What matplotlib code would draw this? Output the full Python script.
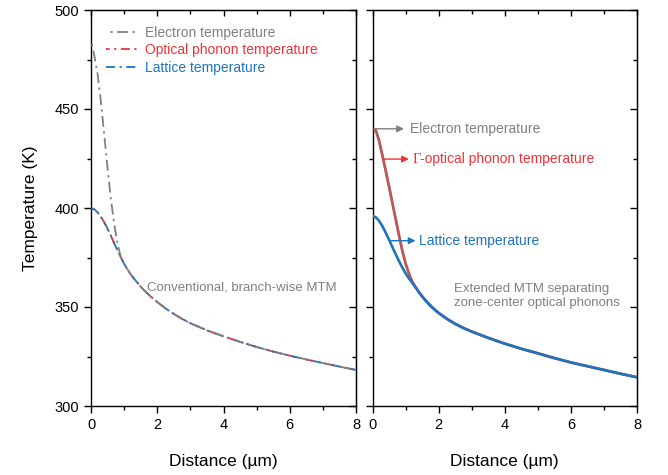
import matplotlib
matplotlib.use("Agg")
import matplotlib.pyplot as plt
from matplotlib.ticker import MultipleLocator

plt.rcParams['font.family'] = ['Liberation Sans', 'DejaVu Sans']

# ---------------- data ----------------
# Left panel: conventional, branch-wise MTM
x_left = [0, 0.1, 0.2, 0.3, 0.4, 0.5, 0.6, 0.7, 0.8, 0.9, 1.0, 1.1, 1.2, 1.3, 1.4, 1.5, 1.6, 1.7, 1.8, 1.9,
          2.0, 2.25, 2.5, 2.75, 3.0, 3.5, 4.0, 4.5, 5.0, 5.5, 6.0, 6.5, 7.0, 7.5, 8.0]
electron_left = [485, 477, 467.5, 453.5, 437, 420, 404.5, 392, 382, 375.3, 371.8, 369, 366.5, 364.3, 362.3,
                 360.3, 358.5, 356.9, 355.3, 353.9, 352.5, 349.3, 346.5, 344, 341.8, 338.2, 335.2, 332.4,
                 329.8, 327.5, 325.4, 323.5, 321.7, 319.9, 318.2]
optical_left = [400, 399.3, 397.8, 395.5, 392.8, 389.5, 386, 382.2, 378.6, 375.1, 371.8, 369, 366.5, 364.3, 362.3,
                360.3, 358.5, 356.9, 355.3, 353.9, 352.5, 349.3, 346.5, 344, 341.8, 338.2, 335.2, 332.4,
                329.8, 327.5, 325.4, 323.5, 321.7, 319.9, 318.2]
lattice_left = [400, 399.3, 397.8, 395.5, 392.8, 389.5, 386, 382.2, 378.6, 375.1, 371.8, 369, 366.5, 364.3, 362.3,
                360.3, 358.5, 356.9, 355.3, 353.9, 352.5, 349.3, 346.5, 344, 341.8, 338.2, 335.2, 332.4,
                329.8, 327.5, 325.4, 323.5, 321.7, 319.9, 318.2]

# Right panel: extended MTM separating zone-center optical phonons
x_right = [0, 0.1, 0.2, 0.3, 0.4, 0.5, 0.6, 0.7, 0.8, 0.9, 1.0, 1.1, 1.2, 1.3, 1.4, 1.5, 1.6, 1.7, 1.8, 1.9,
           2.0, 2.25, 2.5, 2.75, 3.0, 3.5, 4.0, 4.5, 5.0, 5.5, 6.0, 6.5, 7.0, 7.5, 8.0]
electron_right = [440, 439.2, 434, 426.5, 418.8, 410.8, 402.7, 394.5, 386.3, 378.6, 372, 367, 362.8, 360.1, 357.6,
                  355.4, 353.4, 351.6, 349.9, 348.4, 347, 344, 341.5, 339.4, 337.6, 334.4, 331.5, 328.9,
                  326.6, 324.2, 322, 320.1, 318.2, 316.3, 314.5]
optical_right = [440, 439.2, 434, 426.5, 418.8, 410.8, 402.7, 394.5, 386.3, 378.6, 372, 367, 362.8, 360.1, 357.6,
                 355.4, 353.4, 351.6, 349.9, 348.4, 347, 344, 341.5, 339.4, 337.6, 334.4, 331.5, 328.9,
                 326.6, 324.2, 322, 320.1, 318.2, 316.3, 314.5]
lattice_right = [396, 395.3, 393.5, 390.8, 387.5, 384, 380.3, 376.7, 373.2, 370, 367, 364.5, 362.3, 360, 357.6,
                 355.4, 353.4, 351.6, 349.9, 348.4, 347, 344, 341.5, 339.4, 337.6, 334.4, 331.5, 328.9,
                 326.6, 324.2, 322, 320.1, 318.2, 316.3, 314.5]

x_ticks = [0, 2, 4, 6, 8]
y_ticks = [300, 350, 400, 450, 500]

GRAY = '#808080'
RED = '#EE3338'
BLUE = '#1E74BE'

fig = plt.figure(figsize=(6.68, 4.75), dpi=100)
axL = fig.add_axes([91/668, 69/475, 265/668, 396/475])
axR = fig.add_axes([372.5/668, 69/475, 264.5/668, 396/475])

for ax in (axL, axR):
    ax.set_xlim(0, 8)
    ax.set_ylim(300, 500)
    ax.set_xticks(x_ticks)
    ax.set_yticks(y_ticks)
    ax.xaxis.set_minor_locator(MultipleLocator(1))
    ax.yaxis.set_minor_locator(MultipleLocator(25))
    ax.tick_params(which='both', direction='out', top=False, right=False,
                   labelsize=10.5, width=1.0, colors='black')
    ax.tick_params(which='major', length=5)
    ax.tick_params(which='minor', length=3)
    for s in ax.spines.values():
        s.set_linewidth(1.0)
    secx = ax.secondary_xaxis('top')
    secx.set_xticks(x_ticks)
    secx.xaxis.set_minor_locator(MultipleLocator(1))
    secx.tick_params(which='both', direction='in', labeltop=False, width=1.0)
    secx.tick_params(which='major', length=4)
    secx.tick_params(which='minor', length=3)
    secy = ax.secondary_yaxis('right')
    secy.set_yticks(y_ticks)
    secy.yaxis.set_minor_locator(MultipleLocator(25))
    secy.tick_params(which='both', direction='in', labelright=False, width=1.0)
    secy.tick_params(which='major', length=5)
    secy.tick_params(which='minor', length=3)
    ax.set_xlabel('Distance (\u00b5m)', fontsize=12.5, labelpad=16)

axR.tick_params(labelleft=False)
axL.set_ylabel('Temperature (K)', fontsize=12.5, labelpad=12)

# Left panel lines
dash_b = (0, (5, 2.5, 1.2, 2.5))
dash_r = (3, (5, 2.5, 1.2, 2.5))
dash_g = (6, (6, 2.5, 1.2, 2.5))
axL.plot(x_left, optical_left, color=RED, lw=1.3, ls=dash_r, label='Optical phonon temperature', zorder=2)
axL.plot(x_left, lattice_left, color=BLUE, lw=1.3, ls=dash_b, label='Lattice temperature', zorder=3)
axL.plot(x_left, electron_left, color=GRAY, lw=1.3, ls=dash_g, label='Electron temperature', zorder=4)

h, l = axL.get_legend_handles_labels()
order = [2, 0, 1]
leg = axL.legend([h[i] for i in order], [l[i] for i in order], loc='upper left',
                 frameon=False, fontsize=10, handlelength=2.2, handletextpad=0.6,
                 labelspacing=0.25, borderaxespad=0.3, bbox_to_anchor=(0.02, 0.985))
for txt, c in zip(leg.get_texts(), [GRAY, RED, BLUE]):
    txt.set_color(c)

axL.text(1.7, 360, 'Conventional, branch-wise MTM', color=GRAY, fontsize=9.5,
         ha='left', va='center')

# Right panel lines
axR.plot(x_right, optical_right, color=RED, lw=1.9, zorder=2)
axR.plot(x_right, electron_right, color=GRAY, lw=1.9, alpha=0.5, zorder=3)
axR.plot(x_right, lattice_right, color=BLUE, lw=1.9, zorder=4)

arrow_kw = dict(arrowstyle='-|>', lw=1.0, mutation_scale=10, shrinkA=0, shrinkB=0)
axR.annotate('', xy=(0.95, 440), xytext=(0.08, 440),
             arrowprops=dict(color=GRAY, **arrow_kw))
axR.text(1.12, 440, 'Electron temperature', color=GRAY, fontsize=10, ha='left', va='center')

axR.annotate('', xy=(1.1, 424.7), xytext=(0.32, 424.7),
             arrowprops=dict(color=RED, **arrow_kw))
axR.text(1.2, 424.7, '\u0393', color=RED, fontsize=10.5, ha='left', va='center',
         family=['Liberation Serif', 'DejaVu Serif'])
axR.text(1.45, 424.7, '-optical phonon temperature', color=RED, fontsize=10, ha='left', va='center')

axR.annotate('', xy=(1.3, 383.5), xytext=(0.53, 383.5),
             arrowprops=dict(color=BLUE, **arrow_kw))
axR.text(1.4, 383.5, 'Lattice temperature', color=BLUE, fontsize=10, ha='left', va='center')

axR.text(2.47, 355.7, 'Extended MTM separating\nzone-center optical phonons', color=GRAY,
         fontsize=9.5, ha='left', va='center', linespacing=1.25)

fig.savefig('out.png', dpi=100)
